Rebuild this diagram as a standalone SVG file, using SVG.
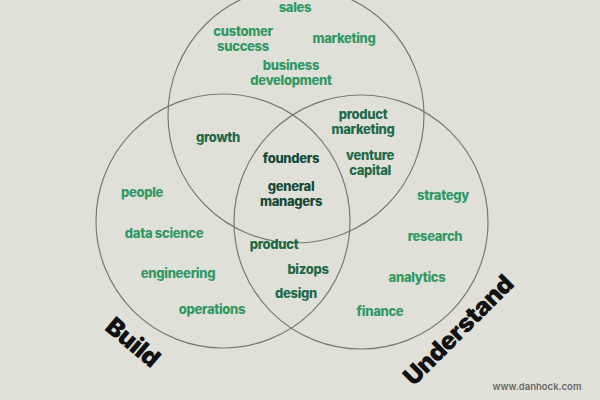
<svg xmlns="http://www.w3.org/2000/svg" width="600" height="400" viewBox="0 0 600 400">
<style>
.c{fill:none;stroke:#7a7a74;stroke-width:1.2}
text{font-family:Inter,"Liberation Sans",sans-serif;font-weight:800;text-anchor:middle;letter-spacing:-0.3px}
.l{fill:#2e9a62;font-size:13px}
.d{fill:#1c6a48;font-size:13px}
.x{fill:#124a36;font-size:13px}
.big{fill:#111;font-size:25px;font-weight:900;letter-spacing:-0.5px}
.w{fill:#6a6a66;font-size:9.5px;font-weight:600;letter-spacing:0}
</style>
<rect width="600" height="400" fill="#e0e0d9"/>
<g id="connectors">
<circle id="c-top" class="c" cx="296" cy="115" r="128"/>
<circle id="c-build" class="c" cx="223" cy="221" r="127"/>
<circle id="c-understand" class="c" cx="361" cy="222" r="127"/>
</g>
<g id="sales"><text class="l" x="295" y="12">sales</text></g>
<g id="customer-success"><text class="l" x="243" y="36">customer<tspan x="243" dy="15">success</tspan></text></g>
<g id="marketing"><text class="l" x="344" y="43">marketing</text></g>
<g id="business-development"><text class="l" x="291" y="70">business<tspan x="291" dy="15">development</tspan></text></g>
<g id="growth"><text class="d" x="218" y="142">growth</text></g>
<g id="product-marketing"><text class="d" x="363" y="119">product<tspan x="363" dy="15">marketing</tspan></text></g>
<g id="founders"><text class="x" x="291" y="163">founders</text></g>
<g id="venture-capital"><text class="d" x="370" y="160">venture<tspan x="370" dy="15">capital</tspan></text></g>
<g id="general-managers"><text class="x" x="291" y="191">general<tspan x="291" dy="15">managers</tspan></text></g>
<g id="people"><text class="l" x="142" y="197">people</text></g>
<g id="data-science"><text class="l" x="164" y="238">data science</text></g>
<g id="engineering"><text class="l" x="178" y="278">engineering</text></g>
<g id="operations"><text class="l" x="212" y="314">operations</text></g>
<g id="strategy"><text class="l" x="443" y="200">strategy</text></g>
<g id="research"><text class="l" x="435" y="241">research</text></g>
<g id="analytics"><text class="l" x="417" y="282">analytics</text></g>
<g id="finance"><text class="l" x="380" y="316">finance</text></g>
<g id="product"><text class="d" x="274" y="249">product</text></g>
<g id="bizops"><text class="d" x="308" y="274">bizops</text></g>
<g id="design"><text class="d" x="296" y="298">design</text></g>
<g id="build-label"><text class="big" transform="translate(133,342) rotate(40)" y="9">Build</text></g>
<g id="understand-label"><text class="big" transform="translate(458,330) rotate(-45)" y="9">Understand</text></g>
<g id="watermark"><text class="w" x="537" y="390">www.danhock.com</text></g>
</svg>
